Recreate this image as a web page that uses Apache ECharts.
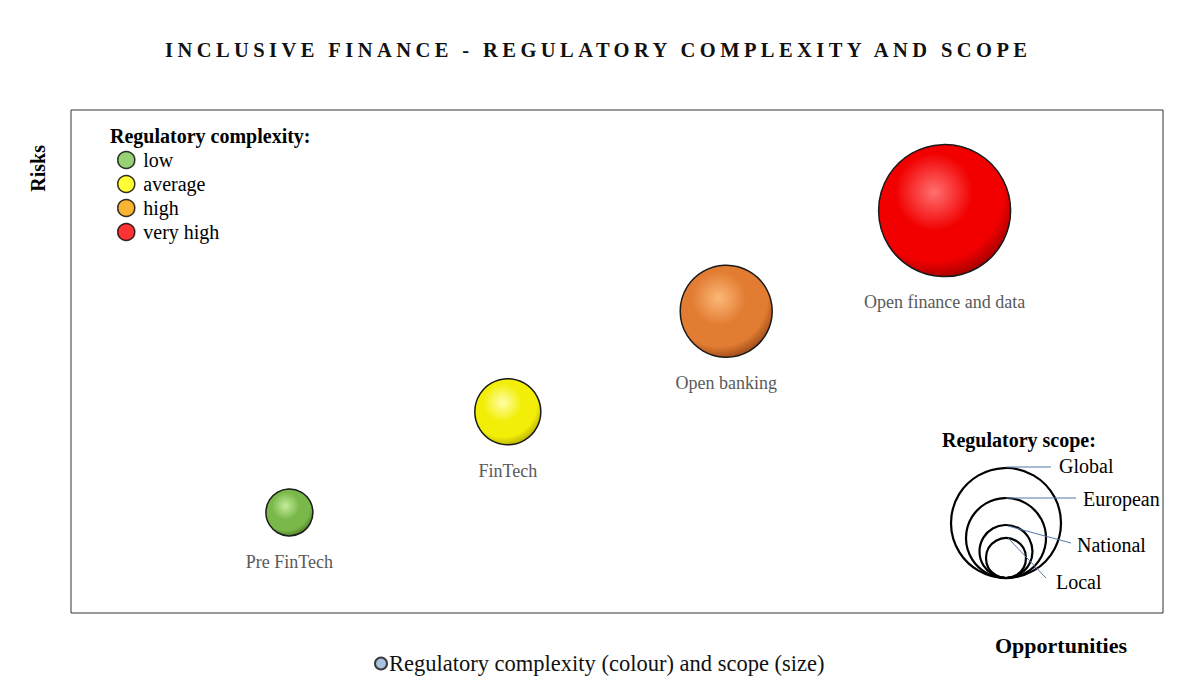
<!DOCTYPE html>
<html>
<head>
<meta charset="utf-8">
<script src="https://cdn.jsdelivr.net/npm/echarts@6/dist/echarts.min.js"></script>
<style>
  html, body { margin: 0; padding: 0; background: #fff; }
  #chart { width: 1180px; height: 689px; }
</style>
</head>
<body>
<div id="chart"></div>
<script>
var titleText = 'INCLUSIVE FINANCE - REGULATORY COMPLEXITY AND SCOPE';

// stages of inclusive finance
var stages = ['Pre FinTech', 'FinTech', 'Open banking', 'Open finance and data'];
var opportunities = [2, 4, 6, 8];
var risks = [2, 4, 6, 8];
// regulatory scope: 1 local, 2 national, 3 european, 4 global
var scopeLevel = [1, 2, 3, 4];
// regulatory complexity index into complexityNames
var complexity = [0, 1, 2, 3];

var complexityNames = ['low', 'average', 'high', 'very high'];
var scopeNames = ['Local', 'National', 'European', 'Global'];

var legendColors = ['#7dc452', '#ffff00', '#f5a300', '#ff0000'];
// light / base / dark for the sphere look
var sphereColors = [
    ['#c4ec9a', '#7ab84a', '#3f6e20'],
    ['#ffffa8', '#f2ee08', '#a8a000'],
    ['#fcb878', '#e27c32', '#8a4012'],
    ['#ff7070', '#f20000', '#900000']
];
var bubbleSize = [47, 66, 92, 132];

var serif = '"Liberation Serif", "DejaVu Serif", serif';

function sphere(c) {
    return new echarts.graphic.RadialGradient(0.42, 0.36, 0.7, [
        { offset: 0, color: c[0] },
        { offset: 0.42, color: c[1] },
        { offset: 0.75, color: c[1] },
        { offset: 1, color: c[2] }
    ]);
}

var points = stages.map(function (name, i) {
    return {
        name: name,
        value: [opportunities[i], risks[i], scopeLevel[i]],
        itemStyle: { color: sphere(sphereColors[complexity[i]]) }
    };
});

var mainName = 'Regulatory complexity (colour) and scope (size)';

var series = [{
    type: 'scatter',
    name: mainName,
    data: points,
    symbolSize: function (val) { return bubbleSize[val[2] - 1]; },
    itemStyle: { borderColor: '#1a1a1a', borderWidth: 1.5, opacity: 1 },
    label: {
        show: true,
        position: 'bottom',
        distance: 16,
        formatter: '{b}',
        color: '#595959',
        fontSize: 18,
        fontFamily: serif
    },
    emphasis: { disabled: true }
}];
complexityNames.forEach(function (n, i) {
    series.push({ type: 'scatter', name: n, data: [], itemStyle: { color: legendColors[i] } });
});

// regulatory scope key (bottom right), circles touching at the bottom
var scopeRadius = [20, 26.5, 40, 55];
var keyX = 1006, keyBottom = 578;
var keyLabels = [
    { x: 1056, y: 582, from: [1008, 538], to: [1046, 578] },
    { x: 1077, y: 545, from: [1008, 526], to: [1071, 543] },
    { x: 1083, y: 499, from: [1006, 498], to: [1076, 498] },
    { x: 1059, y: 466, from: [1006, 467], to: [1051, 467] }
];
var graphics = [
    {
        type: 'text', left: 28, top: 145, rotation: Math.PI / 2,
        style: { text: 'Risks', font: 'bold 20px ' + serif, fill: '#000' }
    },
    {
        type: 'text', left: 995, top: 634,
        style: { text: 'Opportunities', font: 'bold 22px ' + serif, fill: '#000' }
    },
    {
        type: 'text', left: 942, top: 430,
        style: { text: 'Regulatory scope:', font: 'bold 20px ' + serif, fill: '#000' }
    }
];
scopeRadius.forEach(function (r, i) {
    graphics.push({
        type: 'circle', silent: true,
        shape: { cx: keyX, cy: keyBottom - r, r: r },
        style: { fill: 'none', stroke: '#000', lineWidth: 2.2 }
    });
});
keyLabels.forEach(function (k, i) {
    graphics.push({
        type: 'line', silent: true,
        shape: { x1: k.from[0], y1: k.from[1], x2: k.to[0], y2: k.to[1] },
        style: { stroke: '#5577aa', lineWidth: 1 }
    });
    graphics.push({
        type: 'text', silent: true, x: k.x, y: k.y,
        style: { text: scopeNames[i], font: '20px ' + serif, fill: '#000', textVerticalAlign: 'middle' }
    });
});

var dom = document.getElementById('chart');
var myChart = echarts.init(dom, null, { renderer: 'svg' });

myChart.setOption({
    animation: false,
    title: [{
        text: titleText,
        left: 165,
        top: 39,
        padding: 0,
        textStyle: { fontSize: 20.5, fontWeight: 'bold', color: '#111', fontFamily: serif }
    }, {
        text: 'Regulatory complexity:',
        left: 110,
        top: 126,
        padding: 0,
        textStyle: { fontSize: 20, fontWeight: 'bold', color: '#000', fontFamily: serif }
    }],
    grid: {
        left: 71, top: 110, width: 1092, height: 503,
        show: true, borderColor: '#333', borderWidth: 1, backgroundColor: '#fff'
    },
    xAxis: {
        type: 'value', min: 0, max: 10,
        axisLine: { show: false }, axisTick: { show: false },
        axisLabel: { show: false }, splitLine: { show: false }
    },
    yAxis: {
        type: 'value', min: 0, max: 10,
        axisLine: { show: false }, axisTick: { show: false },
        axisLabel: { show: false }, splitLine: { show: false }
    },
    legend: [{
        data: [{
            name: mainName,
            icon: 'circle',
            itemStyle: { color: '#a9c2e0', borderColor: '#3a3a3a', borderWidth: 2 }
        }],
        left: 369, top: 647,
        itemWidth: 12, itemHeight: 12, itemGap: 4,
        selectedMode: false,
        textStyle: { fontSize: 22.5, color: '#111', fontFamily: serif, padding: [0, 0, 0, -3] }
    }, {
        data: complexityNames.map(function (n, i) {
            return {
                name: n, icon: 'circle',
                itemStyle: { color: legendColors[i], borderColor: '#000', borderWidth: 1.5 }
            };
        }),
        orient: 'vertical',
        left: 117, top: 150,
        padding: 0,
        itemWidth: 24, itemHeight: 17, itemGap: 4,
        selectedMode: false,
        textStyle: { fontSize: 20, color: '#000', fontFamily: serif, lineHeight: 20 }
    }],
    graphic: graphics,
    series: series
});

// letter-spaced title, spread to the width of the original
function spaceTitle() {
    var nodes = dom.querySelectorAll('text');
    for (var i = 0; i < nodes.length; i++) {
        var t = nodes[i];
        if (t.textContent === titleText && !t.getAttribute('letter-spacing')) {
            var len = t.getComputedTextLength();
            t.setAttribute('letter-spacing', ((862 - len) / (titleText.length - 1)).toFixed(2));
        }
    }
}
myChart.on('finished', spaceTitle);
spaceTitle();
</script>
</body>
</html>
